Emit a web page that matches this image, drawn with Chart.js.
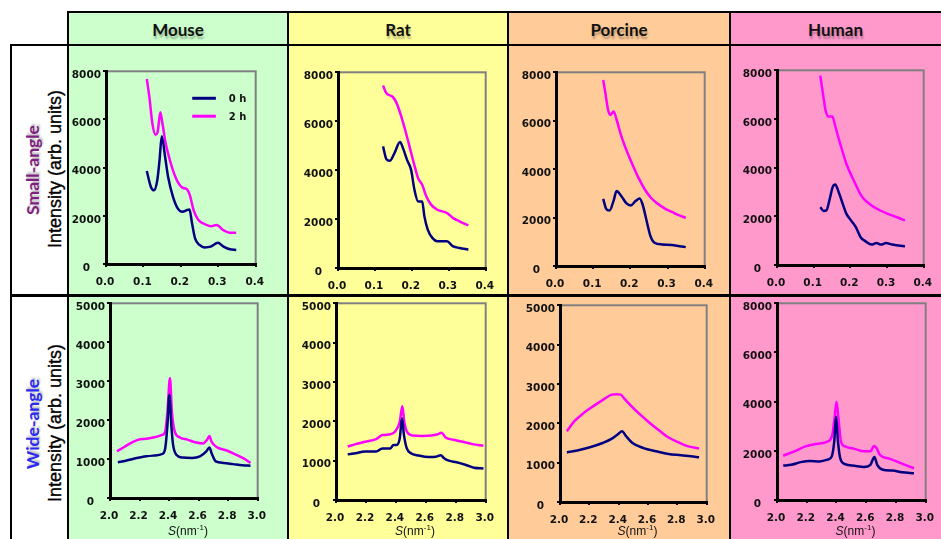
<!DOCTYPE html>
<html><head><meta charset="utf-8">
<script src="https://cdn.jsdelivr.net/npm/chart.js@4.4.1/dist/chart.umd.min.js"></script>
<style>
html,body{margin:0;padding:0;background:#fff;}
body{width:941px;height:539px;position:relative;overflow:hidden;font-family:"Liberation Sans",Arial,sans-serif;}
.bg,.line,.hdr,.rot,.xt,canvas{position:absolute;}
.line{background:#000;}
.hdr{top:12px;height:33px;line-height:35px;text-align:center;font-family:Lato,sans-serif;font-weight:bold;font-size:17px;color:#111;text-shadow:1px 3px 2px rgba(0,0,0,0.28);}
.rot{transform:translate(-50%,-50%) rotate(-90deg);white-space:nowrap;}
.row{font-family:Lato,sans-serif;font-weight:bold;font-size:17.5px;text-shadow:2px 1px 2px rgba(0,0,0,0.25);}
.ytl{font-family:"Liberation Sans",Arial,sans-serif;font-size:18px;color:#000;-webkit-text-stroke:0.35px #000;}
.xt{font-family:"Liberation Sans",Arial,sans-serif;font-size:12px;color:#111;transform:translateX(-50%);white-space:nowrap;}
.xt sup{font-size:8px;vertical-align:5px;line-height:0;}
</style></head><body>
<script>
// ---------------- data ----------------
const panelTitles = ['Mouse', 'Rat', 'Porcine', 'Human'];
const rowLabels = ['Small-angle', 'Wide-angle'];
const yAxisTitle = 'Intensity (arb. units)';
const seriesLabels = ['0 h', '2 h'];

// Small-angle, x = S (nm^-1), y = intensity
const mouseSmall0hX = [0.109,0.120,0.128,0.137,0.143,0.149,0.158,0.166,0.179,0.192,0.204,0.217,0.223,0.230,0.238,0.250,0.263,0.280,0.299,0.314,0.331,0.348];
const mouseSmall0hY = [3860,3200,3060,3480,4300,5300,4440,3610,2790,2300,2170,2240,2260,1680,1060,790,690,720,880,720,610,580];
const mouseSmall2hX = [0.109,0.116,0.124,0.132,0.138,0.145,0.151,0.158,0.166,0.179,0.192,0.204,0.217,0.224,0.234,0.246,0.263,0.280,0.295,0.314,0.331,0.348];
const mouseSmall2hY = [7680,6920,5820,5370,5480,6300,5820,5130,4580,3890,3400,3170,3090,2860,2240,1850,1660,1570,1620,1400,1300,1300];

const ratSmall0hX = [0.122,0.131,0.140,0.153,0.168,0.176,0.187,0.198,0.207,0.217,0.228,0.234,0.243,0.256,0.269,0.295,0.312,0.329,0.353];
const ratSmall0hY = [4970,4450,4380,4700,5150,4900,4420,4010,3200,2720,2720,2110,1570,1220,1090,1090,880,820,750];
const ratSmall2hX = [0.122,0.131,0.148,0.159,0.170,0.183,0.196,0.209,0.217,0.228,0.239,0.252,0.269,0.295,0.312,0.329,0.353];
const ratSmall2hY = [7460,7140,7000,6730,6260,5580,4830,4080,3670,3400,2930,2590,2380,2250,2040,1910,1740];

const porcineSmall0hX = [0.127,0.135,0.144,0.155,0.163,0.176,0.189,0.201,0.214,0.225,0.233,0.244,0.254,0.265,0.286,0.311,0.332,0.349];
const porcineSmall0hY = [2770,2360,2290,2700,3100,2880,2600,2500,2680,2790,2540,1850,1240,960,890,870,820,780];
const porcineSmall2hX = [0.127,0.133,0.140,0.146,0.155,0.163,0.176,0.189,0.206,0.222,0.239,0.256,0.273,0.294,0.316,0.332,0.349];
const porcineSmall2hY = [7680,7130,6450,6240,6380,6040,5350,4800,4180,3640,3160,2810,2580,2360,2200,2090,1990];

const humanSmall0hX = [0.118,0.127,0.135,0.144,0.152,0.159,0.168,0.176,0.189,0.202,0.215,0.228,0.241,0.258,0.271,0.284,0.297,0.314,0.331,0.349];
const humanSmall0hY = [2380,2220,2250,2730,3210,3310,3000,2660,2110,1830,1560,1140,980,840,900,840,900,840,800,770];
const humanSmall2hX = [0.118,0.125,0.132,0.140,0.151,0.159,0.172,0.189,0.211,0.232,0.254,0.280,0.306,0.331,0.349];
const humanSmall2hY = [7780,7070,6380,6100,6100,5690,5000,4170,3420,2800,2490,2250,2080,1940,1830];

// Wide-angle
const mouseWide0hX = [2.053,2.107,2.160,2.214,2.246,2.300,2.353,2.374,2.389,2.402,2.415,2.427,2.449,2.491,2.556,2.609,2.652,2.673,2.688,2.716,2.769,2.833,2.897,2.951];
const mouseWide0hY = [915,957,1010,1050,1070,1090,1130,1280,1880,2650,1880,1370,1110,1040,1030,1070,1200,1300,1150,940,900,870,840,830];
const mouseWide2hX = [2.047,2.096,2.150,2.203,2.246,2.300,2.353,2.374,2.389,2.406,2.419,2.438,2.470,2.524,2.577,2.631,2.656,2.673,2.688,2.726,2.791,2.855,2.908,2.951];
const mouseWide2hY = [1200,1310,1430,1510,1520,1560,1620,1710,2220,3080,2220,1710,1560,1500,1430,1400,1490,1590,1440,1300,1220,1110,1010,900];

const ratWide0hX = [2.078,2.131,2.194,2.268,2.310,2.363,2.384,2.405,2.426,2.441,2.454,2.473,2.500,2.553,2.616,2.669,2.700,2.722,2.753,2.806,2.869,2.922,2.985];
const ratWide0hY = [1160,1190,1230,1230,1310,1310,1400,1400,1570,2080,1650,1310,1190,1130,1090,1100,1140,1060,1000,960,890,820,800];
const ratWide2hX = [2.078,2.131,2.194,2.268,2.310,2.363,2.395,2.426,2.443,2.456,2.473,2.511,2.574,2.637,2.679,2.705,2.732,2.785,2.848,2.911,2.985];
const ratWide2hY = [1360,1420,1480,1550,1650,1670,1740,1990,2380,1990,1740,1640,1630,1640,1670,1710,1590,1530,1480,1420,1380];

const porcineWide0hX = [2.047,2.118,2.204,2.290,2.354,2.397,2.423,2.451,2.494,2.569,2.655,2.740,2.826,2.891,2.948];
const porcineWide0hY = [1260,1310,1390,1500,1610,1730,1800,1670,1500,1370,1290,1220,1190,1160,1140];
const porcineWide2hX = [2.047,2.097,2.161,2.225,2.290,2.354,2.386,2.414,2.440,2.483,2.547,2.612,2.676,2.740,2.805,2.869,2.948];
const porcineWide2hY = [1800,2050,2260,2430,2590,2730,2740,2730,2620,2450,2220,2010,1820,1640,1520,1420,1360];

const humanWide0hX = [2.042,2.095,2.159,2.222,2.286,2.340,2.368,2.385,2.397,2.410,2.425,2.457,2.521,2.585,2.628,2.655,2.674,2.712,2.776,2.840,2.921];
const humanWide0hY = [1400,1430,1540,1590,1570,1640,1770,2380,3400,2380,1700,1460,1390,1340,1430,1750,1430,1230,1200,1130,1090];
const humanWide2hX = [2.042,2.117,2.191,2.266,2.340,2.372,2.387,2.400,2.413,2.430,2.457,2.521,2.585,2.628,2.653,2.670,2.691,2.755,2.819,2.921];
const humanWide2hY = [1800,1980,2180,2280,2380,2660,3340,4000,3340,2380,2180,2080,1980,1980,2200,2110,1840,1680,1530,1290];

// axis ranges / tick steps
const smallXRange = [0, 0.4, 0.1];
const wideXRange = [2.0, 3.0, 0.2];
const smallYRange = [0, 8000, 2000];
const wideYRanges = [[0, 5000, 1000], [0, 5000, 1000], [0, 5000, 1000], [0, 8000, 2000]];

// ---------------- layout ----------------
const colEdges = [68, 288, 508, 730, 941];
const colBg = ['#CCFFCC', '#FFFF99', '#FFCC99', '#FF99CC'];
const rowLabelColors = ['#7F1F80', '#2A2AF0'];
const plotBoxes = [
  [[106,71,264,264],[338,72,494,268],[556,72,713,266],[777,70,932,265]],
  [[110,303,266,498],[336,303,494,500],[560,305,715,502],[777,303,934,500]]
];

function el(cls, css, html) {
  const d = document.createElement('div');
  d.className = cls; Object.assign(d.style, css);
  if (html !== undefined) d.innerHTML = html;
  document.body.appendChild(d); return d;
}
for (let c = 0; c < 4; c++) {
  el('bg', {left: colEdges[c]+'px', top:'12px', width:(colEdges[c+1]-colEdges[c])+'px', height:'527px', background: colBg[c]});
  const h = el('hdr', {left: colEdges[c]+'px', width:(colEdges[c+1]-colEdges[c])+'px'});
  h.textContent = panelTitles[c];
}
el('line', {left:'67px', top:'11px', width:'874px', height:'2px'});
el('line', {left:'10px', top:'44px', width:'931px', height:'2px'});
el('line', {left:'10px', top:'294px', width:'931px', height:'3px'});
el('line', {left:'10px', top:'44px', width:'2px', height:'495px'});
for (let c = 0; c < 4; c++) el('line', {left:(colEdges[c]-1)+'px', top:'11px', width:'2px', height:'528px'});
const rowCenters = [170, 424];
for (let r = 0; r < 2; r++) {
  const a = el('rot row', {left:'32px', top: rowCenters[r]+'px', color: rowLabelColors[r]});
  a.textContent = rowLabels[r];
  const b = el('rot ytl', {left:'55px', top: (rowCenters[r]-1)+'px'});
  b.textContent = yAxisTitle;
}

// ---------------- charts ----------------
const framePlugin = {
  id: 'frame',
  beforeDraw(chart) {
    const a = chart.chartArea, ctx = chart.ctx;
    ctx.save(); ctx.strokeStyle = '#808080'; ctx.lineWidth = 2;
    ctx.strokeRect(a.left, a.top, a.right - a.left, a.bottom - a.top);
    ctx.restore();
  }
};
const legendPlugin = {
  id: 'lg',
  afterDatasetsDraw(chart, args, opts) {
    if (!opts || !opts.show) return;
    const a = chart.chartArea, ctx = chart.ctx, w = a.right - a.left, h = a.bottom - a.top;
    chart.data.datasets.forEach((d, i) => {
      const y = a.top + h * (0.14 + i * 0.093);
      ctx.save();
      ctx.strokeStyle = d.borderColor; ctx.lineWidth = 3;
      ctx.beginPath(); ctx.moveTo(a.left + w*0.576, y); ctx.lineTo(a.left + w*0.734, y); ctx.stroke();
      ctx.fillStyle = '#111'; ctx.font = 'bold 10px "DejaVu Sans"'; ctx.textBaseline = 'middle';
      ctx.fillText(d.label, a.left + w*0.82, y + 1);
      ctx.restore();
    });
  }
};

const tickFont = {family: '"DejaVu Sans", Verdana, sans-serif', weight: 'bold', size: 10.5};
function pts(xs, ys) { return xs.map((x, i) => ({x: x, y: ys[i]})); }

function makeChart(box, xr, yr, s0, s1, showLegend) {
  const [pl, pt, pr, pb] = box;
  const padL = 44, padT = 8, padR = 10, xh = 28;
  const W = pr - pl + padL + padR, H = pb - pt + padT + xh;
  const c = document.createElement('canvas');
  c.width = W; c.height = H;
  Object.assign(c.style, {left:(pl-padL)+'px', top:(pt-padT)+'px', width:W+'px', height:H+'px'});
  document.body.appendChild(c);
  new Chart(c, {
    type: 'line',
    data: { datasets: [
      {label: seriesLabels[0], data: pts(s0[0], s0[1]), borderColor: '#000080', borderWidth: 2.5, pointRadius: 0, fill: false, cubicInterpolationMode: 'monotone'},
      {label: seriesLabels[1], data: pts(s1[0], s1[1]), borderColor: '#FF00FF', borderWidth: 2.5, pointRadius: 0, fill: false, cubicInterpolationMode: 'monotone'}
    ]},
    options: {
      responsive: false, animation: false, devicePixelRatio: 1,
      layout: {padding: {left: 0, top: padT, right: padR, bottom: 0}},
      plugins: {legend: {display: false}, tooltip: {enabled: false}, lg: {show: showLegend}},
      scales: {
        x: {type: 'linear', min: xr[0], max: xr[1],
            afterFit(s) { s.height = xh; },
            border: {display: true, color: '#000', width: 3},
            grid: {drawOnChartArea: false, drawTicks: true, tickLength: 3, color: '#000', lineWidth: 2},
            ticks: {stepSize: xr[2], autoSkip: false, maxRotation: 0, padding: 9, labelOffset: -1,
                    color: '#111', font: tickFont, callback: v => Number(v).toFixed(1)}},
        y: {type: 'linear', min: yr[0], max: yr[1],
            afterFit(s) { s.width = padL; },
            border: {display: true, color: '#000', width: 3},
            grid: {drawOnChartArea: false, drawTicks: true, tickLength: 3, color: '#000', lineWidth: 2},
            ticks: {stepSize: yr[2], padding: 2, crossAlign: 'center', labelOffset: 4,
                    color: '#111', font: tickFont, callback: v => String(Math.round(v))}}
      }
    },
    plugins: [framePlugin, legendPlugin]
  });
}

const smallSeries = [
  [[mouseSmall0hX, mouseSmall0hY], [mouseSmall2hX, mouseSmall2hY]],
  [[ratSmall0hX, ratSmall0hY], [ratSmall2hX, ratSmall2hY]],
  [[porcineSmall0hX, porcineSmall0hY], [porcineSmall2hX, porcineSmall2hY]],
  [[humanSmall0hX, humanSmall0hY], [humanSmall2hX, humanSmall2hY]]
];
const wideSeries = [
  [[mouseWide0hX, mouseWide0hY], [mouseWide2hX, mouseWide2hY]],
  [[ratWide0hX, ratWide0hY], [ratWide2hX, ratWide2hY]],
  [[porcineWide0hX, porcineWide0hY], [porcineWide2hX, porcineWide2hY]],
  [[humanWide0hX, humanWide0hY], [humanWide2hX, humanWide2hY]]
];
for (let c = 0; c < 4; c++) {
  makeChart(plotBoxes[0][c], smallXRange, smallYRange, smallSeries[c][0], smallSeries[c][1], c === 0);
  makeChart(plotBoxes[1][c], wideXRange, wideYRanges[c], wideSeries[c][0], wideSeries[c][1], false);
  const b = plotBoxes[1][c];
  el('xt', {left: ((b[0]+b[2])/2)+'px', top: '524px'}, '<i>S</i>(nm<sup>-1</sup>)');
}
</script>
</body></html>
